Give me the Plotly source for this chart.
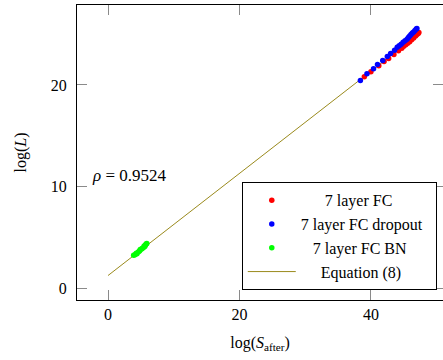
import plotly.graph_objects as go

# log(S_after) vs log(L) for three 7-layer fully connected networks
fc_x = [39.0, 40.0, 41.2, 42.0, 42.7, 43.5, 44.2, 44.7, 45.0, 45.3, 45.6, 45.9,
        46.2, 46.5, 46.8, 47.0, 47.2, 47.3]
fc_y = [20.8, 21.3, 21.9, 22.3, 22.6, 23.0, 23.35, 23.6, 23.8, 23.95, 24.1, 24.25,
        24.45, 24.6, 24.8, 24.95, 25.05, 25.15]

dropout_x = [38.4, 39.4, 40.4, 41.0, 41.8, 42.5, 43.0, 43.6, 44.0, 44.3, 44.6, 44.9,
             45.2, 45.5, 45.7, 45.9, 46.1, 46.3, 46.5, 46.7, 46.9, 47.0]
dropout_y = [20.45, 21.1, 21.6, 22.0, 22.4, 22.8, 23.1, 23.4, 23.7, 23.85, 24.0, 24.2,
             24.35, 24.5, 24.65, 24.8, 24.95, 25.1, 25.2, 25.35, 25.5, 25.55]

bn_x = [3.9, 4.1, 4.3, 4.4, 4.6, 4.8, 4.9, 5.1, 5.2, 5.4, 5.5, 5.6, 5.7, 5.8, 5.9]
bn_y = [3.3, 3.35, 3.5, 3.45, 3.6, 3.7, 3.85, 3.9, 3.95, 4.05, 4.2, 4.15, 4.3, 4.4, 4.45]

# Equation (8) fitted line endpoints
eq_x = [0.0, 47.3]
eq_y = [1.3, 25.0]

rho_text = "<i>ρ</i> = 0.9524"
rho_pos = (-2.7, 11.1)

x_ticks = [0, 20, 40]
y_ticks = [0, 10, 20]

SERIF = "Liberation Serif"
NB = "\u00a0"


def centred(label, pad_left, pad_right=0):
    # legend entries are centred in the box, as in pgfplots
    return NB * pad_left + label + NB * pad_right


fig = go.Figure()
fig.add_trace(go.Scatter(x=eq_x, y=eq_y, mode="lines", name=centred("Equation (8)", 5),
                         line=dict(color="#9a8a1c", width=1), legendgroup="d", legendrank=4))
fig.add_trace(go.Scatter(x=fc_x, y=fc_y, mode="markers", name=centred("7 layer FC", 6),
                         marker=dict(color="#ff0000", size=5.5), legendgroup="a", legendrank=1))
fig.add_trace(go.Scatter(x=dropout_x, y=dropout_y, mode="markers",
                         name=centred("7 layer FC dropout", 0, 2),
                         marker=dict(color="#0000ff", size=5.5), legendgroup="b", legendrank=2))
fig.add_trace(go.Scatter(x=bn_x, y=bn_y, mode="markers", name=centred("7 layer FC BN", 3),
                         marker=dict(color="#00ff00", size=5.5), legendgroup="c", legendrank=3))

axis_common = dict(
    showgrid=False, zeroline=False, showline=True, linecolor="black", linewidth=1,
    ticks="inside", ticklen=10, tickcolor="#8a8a8a", tickwidth=1,
    tickfont=dict(family=SERIF, size=16, color="black"),
)

fig.update_layout(
    width=443, height=360,
    margin=dict(l=77, r=0, t=5, b=60),
    plot_bgcolor="white", paper_bgcolor="white",
    font=dict(family=SERIF, color="black"),
    xaxis=dict(range=[-4.72, 50.97], tickvals=x_ticks, mirror="ticks",
               title=dict(text="log(<i>S</i><sub>after</sub>)",
                          font=dict(family=SERIF, size=16, color="black"), standoff=14),
               **axis_common),
    yaxis=dict(range=[-1.1, 27.85], tickvals=y_ticks, mirror="ticks",
               ticklabelstandoff=6,
               title=dict(text="log(<i>L</i>)",
                          font=dict(family=SERIF, size=16, color="black"), standoff=20),
               **axis_common),
    legend=dict(x=0.983, y=0.033, xanchor="right", yanchor="bottom",
                bordercolor="black", borderwidth=1, bgcolor="white",
                font=dict(family=SERIF, size=16, color="black"),
                traceorder="grouped", tracegroupgap=0, itemwidth=48),
    showlegend=True,
    annotations=[dict(x=rho_pos[0], y=rho_pos[1], xref="x", yref="y", text=rho_text,
                      showarrow=False, xanchor="left", yanchor="middle",
                      font=dict(family=SERIF, size=17, color="black"))],
)

fig.write_html("out.html")
